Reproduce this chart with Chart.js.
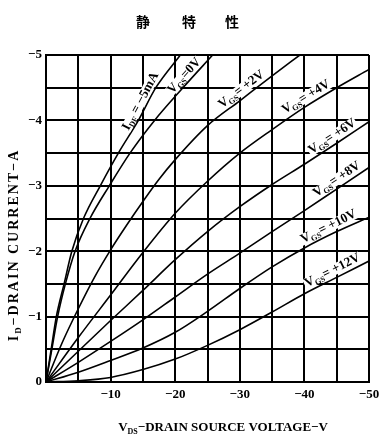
<!DOCTYPE html>
<html>
<head>
<meta charset="utf-8">
<script src="https://cdn.jsdelivr.net/npm/chart.js@4.4.1/dist/chart.umd.min.js"></script>
<style>
  html, body { margin: 0; padding: 0; background: #fff; }
  #wrap { width: 386px; height: 443px; }
</style>
</head>
<body>
<div id="wrap"><canvas id="staticChart" width="386" height="443"></canvas></div>
<script>
(function() {
  'use strict';

  // drain source voltage (V) / drain current (A)
  var idfVolts  = [0, -0.8, -1.6, -2.8, -4.0, -5.8, -8.4, -11.2, -14.3, -17.0, -20.8];
  var idfAmps   = [0, -0.5, -1.0, -1.5, -2.0, -2.5, -3.0, -3.5, -4.0, -4.5, -5.0];
  var vgs0Volts = [0, -0.9, -1.8, -3.0, -4.5, -6.8, -9.8, -13.0, -16.8, -21.2, -25.8];
  var vgs0Amps  = [0, -0.5, -1.0, -1.5, -2.0, -2.5, -3.0, -3.5, -4.0, -4.5, -5.0];
  var vgs2Volts = [0, -2.5, -5, -7.5, -10, -12.5, -15, -17.5, -20, -25, -30, -35, -39.3];
  var vgs2Amps  = [0, -0.6, -1.12, -1.6, -2.02, -2.4, -2.76, -3.1, -3.4, -3.92, -4.3, -4.68, -5.0];

  var volts     = [0, -5, -10, -15, -20, -25, -30, -35, -40, -45, -50];
  var vgs4Amps  = [0, -0.68, -1.33, -1.98, -2.58, -3.07, -3.5, -3.86, -4.2, -4.5, -4.78];
  var vgs6Amps  = [0, -0.47, -0.94, -1.4, -1.87, -2.3, -2.68, -3.02, -3.33, -3.65, -3.98];
  var vgs8Amps  = [0, -0.3, -0.62, -0.95, -1.3, -1.65, -1.97, -2.3, -2.62, -2.95, -3.28];
  var vgs10Amps = [0, -0.15, -0.33, -0.52, -0.76, -1.08, -1.43, -1.76, -2.05, -2.3, -2.52];
  var vgs12Amps = [0, -0.02, -0.07, -0.19, -0.35, -0.56, -0.8, -1.07, -1.35, -1.6, -1.85];

  var xTicks = [-10, -20, -30, -40, -50];
  var yTicks = [0, -1, -2, -3, -4, -5];

  var curves = [
    { volts: idfVolts,  amps: idfAmps },
    { volts: vgs0Volts, amps: vgs0Amps },
    { volts: vgs2Volts, amps: vgs2Amps },
    { volts: volts,     amps: vgs4Amps },
    { volts: volts,     amps: vgs6Amps },
    { volts: volts,     amps: vgs8Amps },
    { volts: volts,     amps: vgs10Amps },
    { volts: volts,     amps: vgs12Amps }
  ];

  var serif = "'Liberation Serif', 'DejaVu Serif', serif";

  // curve names: which curve, where along it, how far off it (px)
  var curveLabels = [
    { curve: 0, v: -15.6, gap: 7, main: 'I', sub: 'DF', rest: ' = \u22125mA' },
    { curve: 1, v: -22.2, gap: 7, main: 'V', sub: 'GS', rest: '=0V' },
    { curve: 2, v: -31.0, gap: 8, main: 'V', sub: 'GS', rest: '= +2V' },
    { curve: 3, v: -40.9, gap: 8, main: 'V', sub: 'GS', rest: '= +4V' },
    { curve: 4, v: -45.0, gap: 8, main: 'V', sub: 'GS', rest: '= +6V' },
    { curve: 5, v: -45.7, gap: 8, main: 'V', sub: 'GS', rest: '= +8V' },
    { curve: 6, v: -44.3, gap: 8, main: 'V', sub: 'GS', rest: '= +10V' },
    { curve: 7, v: -44.9, gap: 8, main: 'V', sub: 'GS', rest: '= +12V' }
  ];

  function pairUp(xs, ys) {
    return xs.map(function(x, k) { return { x: x, y: ys[k] }; });
  }

  function curveSet(c) {
    return {
      data: pairUp(c.volts, c.amps),
      borderColor: '#000',
      borderWidth: 1.6,
      pointRadius: 0,
      fill: false,
      cubicInterpolationMode: 'monotone'
    };
  }

  function ampsAt(c, v) {
    for (var k = 1; k < c.volts.length; k++) {
      if (v <= c.volts[k - 1] && v >= c.volts[k]) {
        var t = (v - c.volts[k - 1]) / (c.volts[k] - c.volts[k - 1]);
        return c.amps[k - 1] + t * (c.amps[k] - c.amps[k - 1]);
      }
    }
    return c.amps[c.amps.length - 1];
  }

  function drawRuns(ctx, runs, x, y, angle, size, spacing, knockout) {
    var big = 'bold ' + size + 'px ' + serif;
    var small = 'bold ' + Math.round(size * 0.62) + 'px ' + serif;
    ctx.save();
    ctx.translate(x, y);
    ctx.rotate(angle);
    ctx.textBaseline = 'middle';
    ctx.textAlign = 'left';
    ctx.letterSpacing = (spacing || 0) + 'px';
    var total = 0;
    runs.forEach(function(r) {
      ctx.font = r.sub ? small : big;
      total += ctx.measureText(r.t).width;
    });
    if (knockout) {
      ctx.fillStyle = '#fff';
      ctx.fillRect(-total / 2 - 1, -size * 0.42, total + 2, size * 0.84);
    }
    ctx.fillStyle = '#000';
    var cx = -total / 2;
    runs.forEach(function(r) {
      ctx.font = r.sub ? small : big;
      ctx.fillText(r.t, cx, r.sub ? size * 0.3 : 0);
      cx += ctx.measureText(r.t).width;
    });
    ctx.restore();
  }

  var textPlugin = {
    id: 'sheetText',
    afterDraw: function(chart) {
      var ctx = chart.ctx;
      var xs = chart.scales.x, ys = chart.scales.y;

      curveLabels.forEach(function(l) {
        var c = curves[l.curve];
        var x0 = xs.getPixelForValue(l.v + 0.8), y0 = ys.getPixelForValue(ampsAt(c, l.v + 0.8));
        var x1 = xs.getPixelForValue(l.v - 0.8), y1 = ys.getPixelForValue(ampsAt(c, l.v - 0.8));
        var a = Math.atan2(y1 - y0, x1 - x0);
        var px = xs.getPixelForValue(l.v) + Math.sin(a) * l.gap;
        var py = ys.getPixelForValue(ampsAt(c, l.v)) - Math.cos(a) * l.gap;
        drawRuns(ctx, [{ t: l.main }, { t: l.sub, sub: true }, { t: l.rest }], px, py, a, 13, 0, true);
      });

      drawRuns(ctx, [{ t: 'I' }, { t: 'D', sub: true }, { t: '\u2212DRAIN CURRENT\u2212A' }],
        14, 245, -Math.PI / 2, 14, 2, false);
      drawRuns(ctx, [{ t: 'V' }, { t: 'DS', sub: true }, { t: '\u2212DRAIN SOURCE VOLTAGE\u2212V' }],
        223, 428, 0, 13, 0, false);

      ctx.save();
      ctx.fillStyle = '#000';
      ctx.font = "bold 14px 'Noto Sans CJK JP', 'Noto Sans CJK SC', sans-serif";
      ctx.textAlign = 'center';
      ctx.textBaseline = 'middle';
      ctx.fillText('\u9759', 143, 22);
      ctx.fillText('\u7279', 189, 22);
      ctx.fillText('\u6027', 232, 22);
      ctx.restore();
    }
  };

  function minusLabel(value) {
    if (value === 0) return '0';
    return '\u2212' + Math.abs(value);
  }

  var ctx = document.getElementById('staticChart').getContext('2d');
  var staticChart = new Chart(ctx, {
    type: 'line',
    data: {
      datasets: curves.map(curveSet)
    },
    options: {
      responsive: false,
      animation: false,
      devicePixelRatio: 1,
      layout: { padding: { top: 55, right: 17, left: 0, bottom: 0 } },
      plugins: {
        legend: { display: false },
        tooltip: { enabled: false }
      },
      scales: {
        x: {
          type: 'linear',
          min: -50,
          max: 0,
          reverse: true,
          afterFit: function(scale) { scale.height = 61; },
          grid: { color: '#000', lineWidth: 2, drawTicks: false },
          border: { color: '#000', width: 2 },
          ticks: {
            stepSize: 5,
            autoSkip: false,
            maxRotation: 0,
            padding: 5,
            color: '#000',
            font: { family: serif, size: 13, weight: 'bold' },
            callback: function(value) {
              return xTicks.indexOf(value) >= 0 ? minusLabel(value) : '';
            }
          }
        },
        y: {
          type: 'linear',
          min: -5,
          max: 0,
          reverse: true,
          afterFit: function(scale) { scale.width = 46; },
          grid: { color: '#000', lineWidth: 2, drawTicks: false },
          border: { color: '#000', width: 2 },
          ticks: {
            stepSize: 0.5,
            autoSkip: false,
            padding: 4,
            color: '#000',
            font: { family: serif, size: 13, weight: 'bold' },
            callback: function(value) {
              return yTicks.indexOf(value) >= 0 ? minusLabel(value) : '';
            }
          }
        }
      }
    },
    plugins: [textPlugin]
  });
})();
</script>
</body>
</html>
